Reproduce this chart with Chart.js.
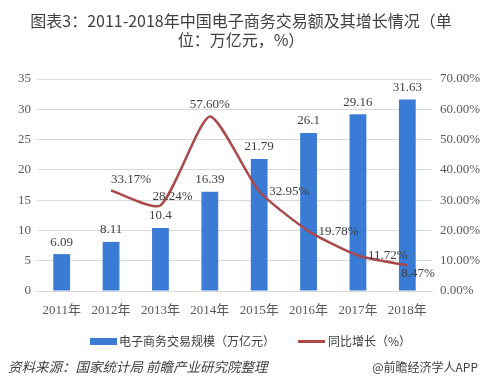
<!DOCTYPE html>
<html>
<head>
<meta charset="utf-8">
<script src="https://cdn.jsdelivr.net/npm/chart.js@4/dist/chart.umd.min.js"></script>
<style>
  body { margin: 0; background: #fff; }
  #wrap { position: relative; width: 482px; height: 382px; overflow: hidden; }
  #grafico { position: absolute; left: 0; top: 0; }
  .txt { position: absolute; font-family: "Noto Sans CJK SC", "Noto Sans", sans-serif; color: #404040; white-space: nowrap; }
  #titulo { left: 0; width: 482px; top: 11px; text-align: center; font-size: 16px; line-height: 19px; }
  .caja { position: absolute; }
</style>
</head>
<body>
<div id="wrap">
  <canvas id="grafico" width="482" height="382"></canvas>
  <div id="titulo" class="txt">图表3：2011-2018年中国电子商务交易额及其增长情况（单<br>位：万亿元，%）</div>
  <div class="caja" style="left:90px;top:338px;width:27px;height:7px;background:#3a7bd5"></div>
  <div class="txt" style="left:119px;top:333px;font-size:12px;line-height:16px">电子商务交易规模（万亿元）</div>
  <div class="caja" style="left:298px;top:340px;width:27px;height:3px;background:#a94a4d"></div>
  <div class="txt" style="left:328px;top:333px;font-size:12px;line-height:16px">同比增长（%）</div>
  <div class="txt" style="left:8px;top:357px;font-size:13.5px;line-height:18px;font-style:italic">资料来源：国家统计局 前瞻产业研究院整理</div>
  <div class="txt" style="right:4px;top:358px;font-size:12px;line-height:18px">@前瞻经济学人APP</div>
</div>
<script>
// datos
const anios = ['2011年', '2012年', '2013年', '2014年', '2015年', '2016年', '2017年', '2018年'];
const volumen = [6.09, 8.11, 10.4, 16.39, 21.79, 26.1, 29.16, 31.63];
const crecimiento = [null, 33.17, 28.24, 57.60, 32.95, 19.78, 11.72, 8.47];

const AZUL = '#3a7bd5';
const ROJO = '#a94a4d';
const fuenteSerif = '"Liberation Serif", "Noto Sans CJK SC", serif';

// posiciones de las etiquetas de la linea (dx, dy desde el punto, texto alineado a la izquierda)
const desplLinea = [null, [0, -11], [-8, -9], [-20, -12], [10, 0], [10, 0], [10, 0], [-6, 8]];

const etiquetas = {
    id: 'etiquetas',
    afterDatasetsDraw(chart) {
        const ctx = chart.ctx;
        ctx.save();
        ctx.font = '13px ' + fuenteSerif;
        ctx.fillStyle = '#404040';
        ctx.textBaseline = 'middle';

        // barras
        ctx.textAlign = 'center';
        chart.getDatasetMeta(0).data.forEach((el, i) => {
            ctx.fillText(String(volumen[i]), el.x, el.y - 12);
        });

        // linea
        ctx.textAlign = 'left';
        chart.getDatasetMeta(1).data.forEach((el, i) => {
            if (crecimiento[i] == null) return;
            const d = desplLinea[i];
            ctx.fillText(crecimiento[i].toFixed(2) + '%', el.x + d[0], el.y + d[1]);
        });
        ctx.restore();
    }
};

const canvas = document.getElementById('grafico');
new Chart(canvas.getContext('2d'), {
    data: {
        labels: anios,
        datasets: [{
            type: 'bar',
            label: '电子商务交易规模（万亿元）',
            data: volumen,
            backgroundColor: AZUL,
            barPercentage: 0.34,
            categoryPercentage: 1,
            yAxisID: 'y',
            order: 2
        }, {
            type: 'line',
            label: '同比增长（%）',
            data: crecimiento,
            borderColor: ROJO,
            borderWidth: 2.5,
            pointRadius: 0,
            tension: 0.2,
            yAxisID: 'y1',
            order: 1
        }]
    },
    options: {
        responsive: false,
        animation: false,
        layout: { padding: { left: 0, right: 0, top: 79, bottom: 61 } },
        plugins: {
            legend: { display: false },
            title: { display: false },
            tooltip: { enabled: false }
        },
        scales: {
            x: {
                grid: { display: false },
                border: { color: '#d9d9d9' },
                ticks: { color: '#595959', font: { family: fuenteSerif, size: 13 }, padding: 4 },
                afterFit: s => { s.height = 30; }
            },
            y: {
                position: 'left',
                min: 0, max: 35,
                ticks: { stepSize: 5, color: '#595959', font: { family: fuenteSerif, size: 13 }, padding: 6 },
                grid: { color: '#d9d9d9', drawTicks: false },
                border: { display: false },
                afterFit: s => { s.width = 37; }
            },
            y1: {
                position: 'right',
                min: 0, max: 70,
                ticks: {
                    stepSize: 10, color: '#595959', font: { family: fuenteSerif, size: 13 }, padding: 8,
                    callback: v => v.toFixed(2) + '%'
                },
                grid: { display: false, drawTicks: false },
                border: { display: false },
                afterFit: s => { s.width = 50; }
            }
        }
    },
    plugins: [etiquetas]
});
</script>
</body>
</html>
